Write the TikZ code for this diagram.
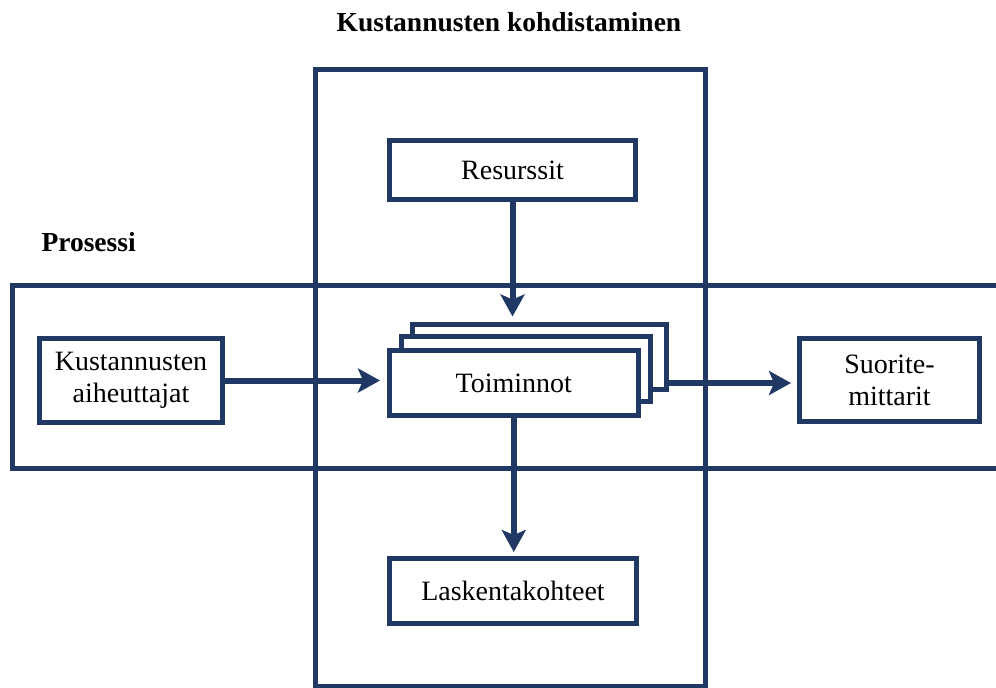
\documentclass[tikz,border=0pt]{standalone}
\usepackage{fontspec}
\setmainfont{Liberation Serif}
\usetikzlibrary{arrows.meta}
\definecolor{navy}{HTML}{1F3864}
\begin{document}
\begin{tikzpicture}[x=1pt,y=-1pt,
  frame/.style={draw=navy,line width=5pt},
  box/.style={draw=navy,line width=5pt,fill=white,inner sep=0pt,
    font=\fontsize{28}{32}\selectfont,align=center},
  arr/.style={draw=navy,line width=6pt,
    -{Stealth[width=24pt,length=22pt,inset=5pt]}},
  heading/.style={font=\bfseries\fontsize{27.5}{31}\selectfont}]
\useasboundingbox (0,0) rectangle (996,688);
\clip (0,0) rectangle (996,688);

% the two crossing frames
\draw[frame] (12.5,285.5) rectangle (1010,468);
\draw[frame] (315.5,69) rectangle (705,686);

\node[heading] (title) at (509,22) {Kustannusten kohdistaminen};
\node[heading,anchor=west] (proc) at (38,242) {Prosessi};

\node[box,minimum width=246pt,minimum height=59pt] (res) at (512.5,170) {Resurssit};
\node[box,minimum width=183pt,minimum height=84pt] (aih) at (131,380.5) {Kustannusten\\aiheuttajat};
\node[box,minimum width=180pt,minimum height=83pt] (suor) at (889.5,380) {Suorite-\\mittarit};
\node[box,minimum width=247pt,minimum height=65pt] (lask) at (513,591) {Laskentakohteet};

% stacked activity boxes
\node[box,minimum width=253.5pt,minimum height=65pt] (toim3) at (539.25,356.5) {};
\node[box,minimum width=249pt,minimum height=65pt] (toim2) at (525.5,368.5) {};
\node[box,minimum width=248.5pt,minimum height=65pt] (toim) at (513.75,383) {Toiminnot};

\draw[arr,shorten >=5pt] (res.south) -- (res.south |- toim3.north);
\draw[arr,shorten >=4pt] (toim.south) -- (toim.south |- lask.north);
\draw[arr,shorten >=7pt] (aih.east) -- (aih.east -| toim.west);
\draw[arr,shorten >=6pt] (toim3.east |- toim.center) -- (suor.west |- toim.center);
\end{tikzpicture}
\end{document}
